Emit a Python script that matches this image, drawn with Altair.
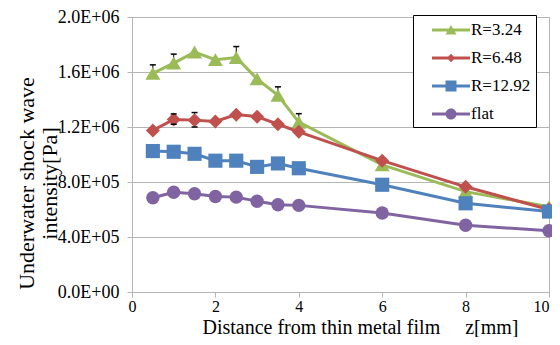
import altair as alt
import pandas as pd

# ---- data ----
z = [0.5, 1, 1.5, 2, 2.5, 3, 3.5, 4, 6, 8, 10]
series_names = ["R=3.24", "R=6.48", "R=12.92", "flat"]
r324 = [1.59e6, 1.665e6, 1.745e6, 1.69e6, 1.705e6, 1.55e6, 1.43e6, 1.235e6, 0.925e6, 0.73e6, 0.62e6]
r648 = [1.175e6, 1.255e6, 1.25e6, 1.24e6, 1.29e6, 1.275e6, 1.22e6, 1.165e6, 0.955e6, 0.765e6, 0.60e6]
r1292 = [1.025e6, 1.02e6, 1.005e6, 0.955e6, 0.955e6, 0.91e6, 0.935e6, 0.90e6, 0.78e6, 0.645e6, 0.585e6]
flat = [0.685e6, 0.725e6, 0.715e6, 0.695e6, 0.69e6, 0.66e6, 0.635e6, 0.63e6, 0.575e6, 0.485e6, 0.445e6]
# error bar extents (upper / lower)
err_up = {
    "R=3.24": [0.062e6, 0.065e6, 0, 0, 0.08e6, 0, 0.062e6, 0.062e6, 0, 0, 0],
    "R=6.48": [0, 0.04e6, 0.055e6, 0, 0, 0, 0, 0, 0, 0, 0],
}
err_dn = {
    "R=3.24": [0] * 11,
    "R=6.48": [0, 0.035e6, 0.05e6, 0, 0, 0, 0, 0, 0, 0, 0],
}
y_ticks = [0, 4e5, 8e5, 1.2e6, 1.6e6, 2.0e6]
x_ticks = [0, 2, 4, 6, 8, 10]

colors = ["#9BBB59", "#C0504D", "#4F81BD", "#8064A2"]
shapes = ["triangle-up", "diamond", "square", "circle"]
sizes = [225, 196, 200, 180]
line_part = "M0.4,-0.15H4.2V0.15H0.4Z"
legend_paths = [
    line_part + "M2.3,-0.5L2.85,0.45L1.75,0.45Z",
    line_part + "M2.3,-0.42L2.72,0L2.3,0.42L1.88,0Z",
    line_part + "M1.75,-0.55H2.85V0.55H1.75Z",
    line_part + "M2.85,0A0.55,0.55 0 1,1 1.75,0A0.55,0.55 0 1,1 2.85,0Z",
]

values = {"R=3.24": r324, "R=6.48": r648, "R=12.92": r1292, "flat": flat}
rows = []
for s in series_names:
    for i, zz in enumerate(z):
        v = values[s][i]
        up = err_up.get(s, [0] * 11)[i]
        dn = err_dn.get(s, [0] * 11)[i]
        rows.append({"series": s, "z": zz, "v": v, "hi": v + up, "lo": v - dn, "haserr": (up + dn) > 0})
df = pd.DataFrame(rows)

FONT = "Liberation Serif"
GRID = "#b5b5b5"

E = "floor(log(datum.value)/LN10 + 1e-9)"
label_expr = (
    f"datum.value == 0 ? '0.0E+00' : format(datum.value / pow(10, {E}), '.1f') + 'E+' + "
    f"({E} < 10 ? '0' : '') + {E}"
)

x_axis = alt.Axis(
    values=x_ticks, grid=False, title="Distance from thin metal film" + "\u00a0" * 5 + "z[mm]",
    labelFont=FONT, labelFontSize=16, labelColor="black", labelPadding=1,
    labelAlign={"condition": {"test": "datum.value == 10", "value": "right"}, "value": "center"},
    tickSize=5, tickColor=GRID, domainColor=GRID,
    titleFont=FONT, titleFontSize=20, titleFontWeight="normal", titleColor="black",
    titleX=228, titleY=41, titleBaseline="alphabetic", titleAlign="center",
    labelFlush=False,
)
y_axis = alt.Axis(
    values=y_ticks, labelExpr=label_expr, grid=True, gridColor=GRID,
    labelFont=FONT, labelFontSize=18, labelColor="black", labelPadding=8,
    tickSize=5, tickColor=GRID, domainColor=GRID,
    title=["Underwater shock wave", "intensity[Pa]"],
    titleFont=FONT, titleFontSize=22, titleFontWeight="normal", titleColor="black",
    titleX=-99, titleY=166, titleBaseline="alphabetic", titleAlign="center", titleLineHeight=23,
)

x_enc = alt.X("z:Q", scale=alt.Scale(domain=[0, 10], nice=False, zero=False), axis=x_axis)
y_enc = alt.Y("v:Q", scale=alt.Scale(domain=[0, 2.0e6], nice=False), axis=y_axis)

base = alt.Chart(df)

leg = alt.Legend(
    orient="none", legendX=281, legendY=-2, direction="vertical", title=None,
    labelFont=FONT, labelFontSize=17, labelColor="black", labelLimit=300,
    labelExpr="datum.label + '\u00a0\u00a0'",
    symbolSize=400, symbolStrokeWidth=0, symbolOpacity=1,
    strokeColor="black", fillColor="white", padding=5, rowPadding=10, labelOffset=33,
)

legend_layer = base.transform_filter("false").mark_point(filled=True, opacity=1).encode(
    x=x_enc, y=y_enc,
    color=alt.Color("series:N", scale=alt.Scale(domain=series_names, range=colors), legend=leg),
    shape=alt.Shape("series:N", scale=alt.Scale(domain=series_names, range=legend_paths), legend=leg),
)

err = base.transform_filter(alt.datum.haserr)
layers = [legend_layer]
layers.append(err.mark_rule(color="black", strokeWidth=1).encode(x="z:Q", y="lo:Q", y2="hi:Q"))
for s, c, sh, sz in zip(series_names, colors, shapes, sizes):
    sub = base.transform_filter(alt.datum.series == s)
    layers.append(sub.mark_line(color=c, strokeWidth=3).encode(x="z:Q", y="v:Q"))
    layers.append(sub.mark_point(shape=sh, size=sz, filled=True, color=c, opacity=1).encode(x="z:Q", y="v:Q"))

layers.append(err.transform_filter("datum.hi > datum.v").mark_tick(orient="horizontal", color="black", size=6, thickness=1.5, opacity=1).encode(x="z:Q", y="hi:Q"))
layers.append(err.transform_filter("datum.lo < datum.v").mark_tick(orient="horizontal", color="black", size=6, thickness=1.5, opacity=1).encode(x="z:Q", y="lo:Q"))

chart = alt.layer(*layers).properties(
    width=417, height=275,
    autosize=alt.AutoSizeParams(type="none"),
    padding={"left": 124, "top": 9, "right": 3, "bottom": 45},
    background="white",
).configure_view(stroke=GRID).configure_legend(labelFont=FONT, labelFontSize=17, labelColor="black")

chart.save("out.html", embed_options={"renderer": "svg", "actions": False})
